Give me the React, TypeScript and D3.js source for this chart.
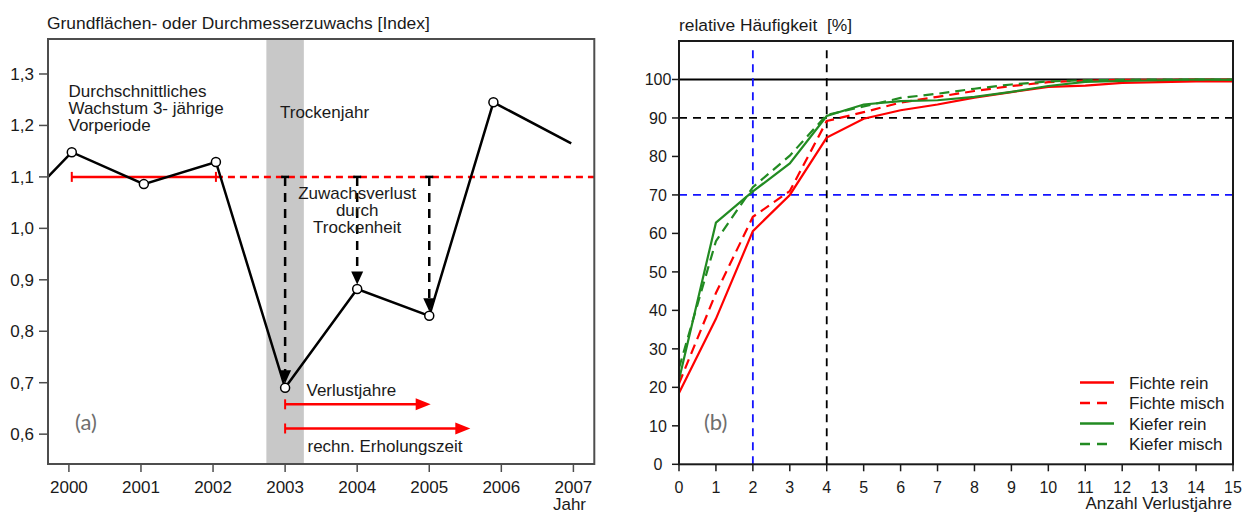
import React from "react";
import * as d3 from "d3";

const W = 1243;
const H = 513;
const FONT = "'Liberation Sans', Arial, Helvetica, sans-serif";
const TAG_FONT = "Lato, 'Open Sans', sans-serif";
const INK = "#1a1a1a";

// ---- Panel (a): growth index around a drought year ----
const growthYears = [1999.71, 2000.04, 2001.04, 2002.04, 2003, 2004, 2005, 2005.89, 2006.97];
const growthIndex = [1.1, 1.148, 1.086, 1.129, 0.69, 0.882, 0.83, 1.245, 1.165];
const markedPoints = [1, 2, 3, 4, 5, 6, 7];
const yearTicks = [2000, 2001, 2002, 2003, 2004, 2005, 2006, 2007];
const indexTicks = [0.6, 0.7, 0.8, 0.9, 1.0, 1.1, 1.2, 1.3];
const baseIndex = 1.1;
const basePeriod = [2000.04, 2002.04];
const droughtYear = 2003;
const droughtHalfWidth = 0.26;
const lossPointIdx = [4, 5, 6];
const lossSpan = [2003, 2005.02];
const lossLevel = 0.658;
const recoverySpan = [2003, 2005.57];
const recoveryLevel = 0.611;

// ---- Panel (b): cumulative frequency of loss years ----
const lossCount = d3.range(0, 16);
const fichteRein = [18.5, 37.8, 60.6, 70, 84.9, 89.8, 92, 93.5, 95.3, 96.7, 98.1, 98.4, 99.1, 99.3, 99.5, 99.5];
const fichteMisch = [21, 44.5, 64.3, 71, 89.2, 91.5, 94, 95.5, 97, 98.3, 99.3, 99.7, 99.9, 99.9, 100, 100];
const kieferRein = [22, 62.8, 70.9, 78.2, 90.5, 93.5, 94.4, 94.6, 95.5, 96.8, 98.3, 99.4, 99.6, 99.8, 100, 99.9];
const kieferMisch = [25, 58, 72, 80.2, 90.8, 93, 95.2, 96.3, 97.6, 98.7, 99.5, 99.8, 99.9, 100, 100, 100];
const freqTicks = [0, 10, 20, 30, 40, 50, 60, 70, 80, 90, 100];
const seriesNames = ["Fichte rein", "Fichte misch", "Kiefer rein", "Kiefer misch"];
const seriesValues = [fichteRein, fichteMisch, kieferRein, kieferMisch];
const seriesColors = ["#ff0000", "#ff0000", "#228b22", "#228b22"];
const seriesDashed = [false, true, false, true];
const guideLossYears = [2, 4];
const guideShares = [70, 90];

const RED = "#ff0000";
const BLUE = "#1414ff";

function PanelA() {
  const x = d3.scaleLinear().domain([1999.71, 2007.29]).range([48, 594.3]);
  const y = d3.scaleLinear().domain([0.542, 1.368]).range([464, 39]);
  const line = d3
    .line<number>()
    .x((_, i) => x(growthYears[i]))
    .y((v) => y(v));
  const fmt = (v: number) => d3.format(".1f")(v).replace(".", ",");
  const [x0, x1] = x.range();
  const [yb, yt] = y.range();

  const arrow = (from: number, to: number, level: number, key: string) => {
    const yy = y(level);
    const tip = x(to);
    return (
      <g key={key}>
        <line x1={x(from)} x2={tip - 12} y1={yy} y2={yy} stroke={RED} strokeWidth={2.5} />
        <line x1={x(from)} x2={x(from)} y1={yy - 5} y2={yy + 5} stroke={RED} strokeWidth={2} />
        <path d={`M${tip},${yy} L${tip - 15},${yy - 6} L${tip - 15},${yy + 6} Z`} fill={RED} />
      </g>
    );
  };

  return (
    <g fontFamily={FONT} fill={INK}>
      <rect
        x={x(droughtYear - droughtHalfWidth)}
        y={yt}
        width={x(droughtYear + droughtHalfWidth) - x(droughtYear - droughtHalfWidth)}
        height={yb - yt}
        fill="#c8c8c8"
      />
      {/* reference level of the pre-period */}
      <line
        x1={x(basePeriod[1])}
        x2={x1}
        y1={y(baseIndex)}
        y2={y(baseIndex)}
        stroke={RED}
        strokeWidth={2.5}
        strokeDasharray="7,5"
      />
      <line x1={x(basePeriod[0])} x2={x(basePeriod[1])} y1={y(baseIndex)} y2={y(baseIndex)} stroke={RED} strokeWidth={2.5} />
      {basePeriod.map((p) => (
        <line key={p} x1={x(p)} x2={x(p)} y1={y(baseIndex) - 5} y2={y(baseIndex) + 5} stroke={RED} strokeWidth={2} />
      ))}
      {/* growth losses */}
      {lossPointIdx.map((i) => {
        const cx = x(growthYears[i]);
        const top = y(baseIndex);
        const tip = y(growthIndex[i]) - 4.5;
        return (
          <g key={i}>
            <line x1={cx - 4} x2={cx + 4} y1={top} y2={top} stroke="#000" strokeWidth={2.5} />
            <line x1={cx} x2={cx} y1={top} y2={tip - 12} stroke="#000" strokeWidth={2.5} strokeDasharray="9,7" />
            <path d={`M${cx},${tip} L${cx - 6},${tip - 13} L${cx + 6},${tip - 13} Z`} fill="#000" />
          </g>
        );
      })}
      <path d={line(growthIndex) || ""} fill="none" stroke="#000" strokeWidth={2.5} strokeLinejoin="miter" />
      {markedPoints.map((i) => (
        <circle key={i} cx={x(growthYears[i])} cy={y(growthIndex[i])} r={4.5} fill="#fff" stroke="#000" strokeWidth={1.5} />
      ))}
      {arrow(lossSpan[0], lossSpan[1], lossLevel, "loss")}
      {arrow(recoverySpan[0], recoverySpan[1], recoveryLevel, "rec")}
      {/* frame and axes */}
      <rect x={x0} y={yt} width={x1 - x0} height={yb - yt} fill="none" stroke="#4d4d4d" strokeWidth={2} />
      {indexTicks.map((t) => (
        <g key={t}>
          <line x1={x0 - 9} x2={x0} y1={y(t)} y2={y(t)} stroke="#4d4d4d" strokeWidth={1.5} />
          <text x={34} y={y(t) + 6} textAnchor="end" fontSize={17}>
            {fmt(t)}
          </text>
        </g>
      ))}
      {yearTicks.map((t) => (
        <g key={t}>
          <line x1={x(t)} x2={x(t)} y1={yb} y2={yb + 8} stroke="#4d4d4d" strokeWidth={1.5} />
          <text x={x(t)} y={493} textAnchor="middle" fontSize={17}>
            {t}
          </text>
        </g>
      ))}
      <text x={586} y={510} textAnchor="end" fontSize={17}>
        Jahr
      </text>
      <text x={47} y={29} fontSize={17.4}>
        Grundflächen- oder Durchmesserzuwachs [Index]
      </text>
      <text x={68.5} fontSize={17}>
        <tspan x={68.5} y={96.5}>Durchschnittliches</tspan>
        <tspan x={68.5} y={113.5}>Wachstum 3- jährige</tspan>
        <tspan x={68.5} y={130.5}>Vorperiode</tspan>
      </text>
      <text x={280} y={118} fontSize={17}>
        Trockenjahr
      </text>
      <text textAnchor="middle" fontSize={17}>
        <tspan x={x(2004)} y={199}>Zuwachsverlust</tspan>
        <tspan x={x(2004)} y={216}>durch</tspan>
        <tspan x={x(2004)} y={233}>Trockenheit</tspan>
      </text>
      <text x={306.5} y={395.5} fontSize={17}>
        Verlustjahre
      </text>
      <text x={307.5} y={452} fontSize={17}>
        rechn. Erholungszeit
      </text>
      <text x={75} y={430} fontSize={22} fill="#6e6e6e" fontFamily={TAG_FONT}>
        (a)
      </text>
    </g>
  );
}

function PanelB() {
  const x = d3.scaleLinear().domain([0, 15]).range([679, 1233]);
  const y = d3.scaleLinear().domain([0, 110]).range([464.3, 41]);
  const line = d3
    .line<number>()
    .x((_, i) => x(lossCount[i]))
    .y((v) => y(v));
  const [x0, x1] = x.range();
  const [yb, yt] = y.range();
  const guideColor = (v: number) => (v === 2 || v === 70 ? BLUE : "#000");

  return (
    <g fontFamily={FONT} fill={INK}>
      {/* guide lines */}
      <line x1={x0} x2={x1} y1={y(100)} y2={y(100)} stroke="#000" strokeWidth={1.8} />
      {guideShares.map((v) => (
        <line key={v} x1={x0} x2={x1} y1={y(v)} y2={y(v)} stroke={guideColor(v)} strokeWidth={1.8} strokeDasharray="8,6" />
      ))}
      {guideLossYears.map((v) => (
        <line key={v} x1={x(v)} x2={x(v)} y1={yb} y2={47.5} stroke={guideColor(v)} strokeWidth={1.8} strokeDasharray="8,6" />
      ))}
      {/* curves */}
      {seriesValues.map((vals, i) => (
        <path
          key={seriesNames[i]}
          d={line(vals) || ""}
          fill="none"
          stroke={seriesColors[i]}
          strokeWidth={2.2}
          strokeDasharray={seriesDashed[i] ? "10,6" : undefined}
        />
      ))}
      {/* frame and axes */}
      <rect x={x0} y={yt} width={x1 - x0} height={yb - yt} fill="none" stroke="#1a1a1a" strokeWidth={2} />
      {freqTicks.map((t) => (
        <g key={t}>
          <line x1={x0 - 7} x2={x0} y1={y(t)} y2={y(t)} stroke="#1a1a1a" strokeWidth={1.5} />
          <text x={658} y={y(t) + 6} textAnchor="middle" fontSize={16}>
            {t}
          </text>
        </g>
      ))}
      {lossCount.map((t) => (
        <g key={t}>
          <line x1={x(t)} x2={x(t)} y1={yb} y2={yb + 7} stroke="#1a1a1a" strokeWidth={1.5} />
          <text x={x(t)} y={493} textAnchor="middle" fontSize={16}>
            {t}
          </text>
        </g>
      ))}
      <text x={1232} y={509} textAnchor="end" fontSize={17}>
        Anzahl Verlustjahre
      </text>
      <text x={679} y={31} fontSize={17.4} xmlSpace="preserve">
        relative Häufigkeit  [%]
      </text>
      <text x={704} y={430} fontSize={22} fill="#6e6e6e" fontFamily={TAG_FONT}>
        (b)
      </text>
      {/* legend */}
      {seriesNames.map((name, i) => {
        const ly = 382.5 + i * 20.5;
        return (
          <g key={name}>
            <line
              x1={1080}
              x2={1114}
              y1={ly}
              y2={ly}
              stroke={seriesColors[i]}
              strokeWidth={2.5}
              strokeDasharray={seriesDashed[i] ? "10,7" : undefined}
            />
            <text x={1129} y={ly + 6} fontSize={17}>
              {name}
            </text>
          </g>
        );
      })}
    </g>
  );
}

export default function App() {
  return (
    <svg
      width={W}
      height={H}
      viewBox={`0 0 ${W} ${H}`}
      style={{ position: "absolute", left: 0, top: 0, background: "#fff" }}
    >
      <rect width={W} height={H} fill="#fff" />
      <PanelA />
      <PanelB />
    </svg>
  );
}
